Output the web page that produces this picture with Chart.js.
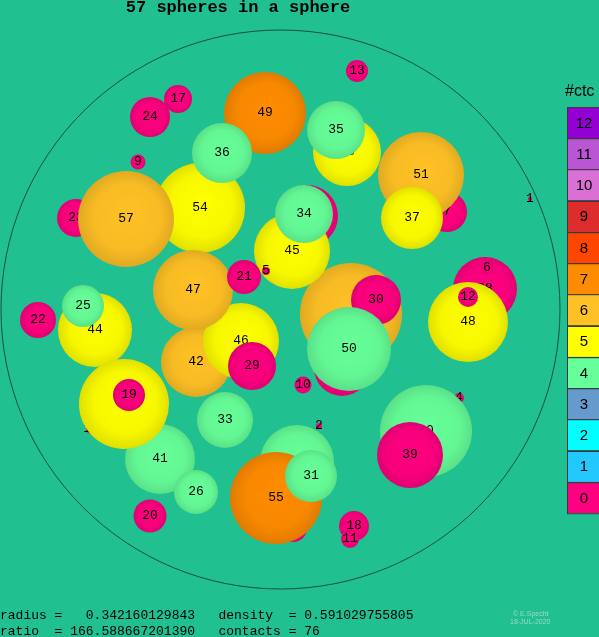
<!DOCTYPE html>
<html>
<head>
<meta charset="utf-8">
<script src="https://cdn.jsdelivr.net/npm/chart.js@4.4.1/dist/chart.umd.min.js"></script>
<style>
  body { margin: 0; background: #20c090; }
  canvas { display: block; }
</style>
</head>
<body>
<canvas id="myChart" width="599" height="637"></canvas>
<script>
// spheres, listed back to front (projected position + radius, image units)
var sphereLabels = ["23","16","52","32","28","15","4","56","7","14",
  "54","49","43","51","45","42","46","47","44","41",
  "40","30","48","55","18","57","36","35","37","34",
  "5","21","29","25","53","19","26","31","50","39",
  "12","6","11","17","24","9","13","22","33","10",
  "20","2","1"];
var sphereX = [76,91,351,342,485,307,459,297,447,293,
  200,265,347,421,292,196,241,193,95,160,
  426,376,468,276,354,126,222,336,412,304,
  266,244,252,83,124,129,196,311,349,410,
  468,487,350,178,150,138,357,38,225,303,
  150,319,530];
var sphereY = [218,429,314,368,289,216,398,462,212,528,
  208,113,152,175,251,362,341,290,330,459,
  431,300,322,498,526,219,153,130,218,214,
  271,277,366,306,404,395,492,476,349,455,
  297,268,539,99,117,162,71,320,420,385,
  516,426,199];
var sphereR = [19,5,51,28,32,31,5,37,20,14,
  45,41,34,43,38,35,38,40,37,35,
  46,25,40,46,15,48,30,29,31,29,
  4,17,24,21,45,16,22,26,42,33,
  10,6,9,14,20,7.5,11,18,28,8.5,
  16.5,3,2];
var sphereCtc = [0,0,6,0,0,0,0,4,0,0,
  5,7,5,6,5,6,5,6,5,4,
  4,0,5,7,0,6,4,4,5,4,
  0,0,0,4,5,0,4,4,4,0,
  0,0,0,0,0,0,0,0,4,0,
  0,0,0];

// colour per number of contacts
var ctcColors = ["#ff0080","#22c8ff","#00ffff","#6699cc","#66ff99","#ffff00",
  "#ffc125","#ff8c00","#ff4500","#dc2c2c","#da70d6","#ba55d3","#9400d3"];
var ctcTicks = ["0","1","2","3","4","5","6","7","8","9","10","11","12"];

var container = { x: 280.5, y: 309.5, r: 279.5 };

var titleText = "57 spheres in a sphere";
var infoLines = [
  "radius =   0.342160129843   density  = 0.591029755805",
  "ratio  = 166.588667201390   contacts = 76"
];

function shade(hex, f) {
  var n = parseInt(hex.slice(1), 16);
  var r = Math.round(((n >> 16) & 255) * f);
  var g = Math.round(((n >> 8) & 255) * f);
  var b = Math.round((n & 255) * f);
  return "rgb(" + r + "," + g + "," + b + ")";
}

function sphereFill(c) {
  var base = c.dataset.baseColor;
  if (!c.raw) return base;
  var sx = c.chart.scales.x, sy = c.chart.scales.y;
  if (!sx || !sy) return base;
  var px = sx.getPixelForValue(c.raw.x);
  var py = sy.getPixelForValue(c.raw.y);
  var pr = sx.getPixelForValue(c.raw.x + c.raw.r) - px;
  if (!isFinite(px) || !isFinite(py) || !isFinite(pr) || pr <= 0) return base;
  var g = c.chart.ctx.createRadialGradient(px + pr * 0.1, py - pr * 0.15, 0, px, py, pr);
  g.addColorStop(0, base);
  g.addColorStop(0.7, shade(base, 0.97));
  g.addColorStop(1, shade(base, 0.88));
  return g;
}

var datasets = [];
for (var i = 0; i < sphereLabels.length; i++) {
  datasets.push({
    sphereLabel: sphereLabels[i],
    baseColor: ctcColors[sphereCtc[i]],
    data: [{ x: sphereX[i], y: sphereY[i], r: sphereR[i] }],
    backgroundColor: sphereFill,
    borderWidth: 0,
    clip: false,
    order: -i
  });
}
datasets.push({
  data: [{ x: container.x, y: container.y, r: container.r }],
  backgroundColor: "rgba(0,0,0,0)",
  borderColor: "#1d4f45",
  borderWidth: 1,
  clip: false,
  order: 1
});

var labelPlugin = {
  id: "sphereLabels",
  afterDatasetDraw: function (chart, args) {
    var ds = chart.data.datasets[args.index];
    if (!ds.sphereLabel) return;
    var el = args.meta.data[0];
    var ctx = chart.ctx;
    ctx.save();
    ctx.font = "13px 'Liberation Mono'";
    ctx.fillStyle = "#000";
    ctx.textAlign = "center";
    ctx.textBaseline = "middle";
    ctx.fillText(ds.sphereLabel, el.x, el.y);
    ctx.restore();
  }
};

var decorPlugin = {
  id: "decor",
  afterDraw: function (chart) {
    var ctx = chart.ctx;
    ctx.save();
    ctx.fillStyle = "#000";
    ctx.textBaseline = "middle";
    ctx.textAlign = "center";
    ctx.font = "bold 17px 'Liberation Mono'";
    ctx.fillText(titleText, 238, 8);

    // colour bar
    var top = 107, h = 31.23;
    for (var k = 0; k < ctcColors.length; k++) {
      var y0 = top + (12 - k) * h;
      ctx.fillStyle = ctcColors[k];
      ctx.fillRect(567, y0, 40, h);
      ctx.strokeStyle = "#3a3a3a";
      ctx.lineWidth = 1;
      ctx.strokeRect(567.5, Math.round(y0) + 0.5, 40, h);
      ctx.fillStyle = "#000";
      ctx.font = "15px 'Liberation Sans'";
      ctx.fillText(ctcTicks[k], 584, y0 + h / 2 + 1);
    }
    ctx.textAlign = "left";
    ctx.font = "16px 'Liberation Sans'";
    ctx.fillText("#ctc", 565, 92);

    ctx.font = "13px 'Liberation Mono'";
    ctx.fillText(infoLines[0], 0, 616);
    ctx.fillText(infoLines[1], 0, 632);

    ctx.fillStyle = "#9fd8c2";
    ctx.font = "7px 'Liberation Sans'";
    ctx.fillText("\u00a9 E.Specht", 513, 614);
    ctx.fillText("18-JUL-2020", 510, 622);
    ctx.restore();
  }
};

var ctx = document.getElementById("myChart").getContext("2d");
var myChart = new Chart(ctx, {
  type: "bubble",
  data: { datasets: datasets },
  options: {
    responsive: false,
    animation: false,
    devicePixelRatio: 1,
    events: [],
    layout: { padding: 0, autoPadding: false },
    plugins: { legend: { display: false }, tooltip: { enabled: false } },
    scales: {
      x: { type: "linear", min: 0, max: 599, display: false },
      y: { type: "linear", min: 0, max: 637, reverse: true, display: false }
    }
  },
  plugins: [labelPlugin, decorPlugin]
});
</script>
</body>
</html>
